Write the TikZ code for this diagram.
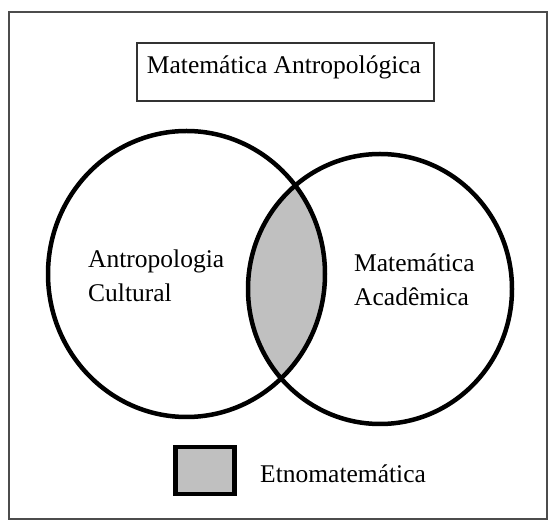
\documentclass[tikz,border=0pt]{standalone}
\usepackage{fontspec}
\setmainfont{Liberation Serif}
\begin{document}
\begin{tikzpicture}[x=1pt,y=-1pt,
  lbl/.style={font=\fontsize{25.5}{34}\selectfont, inner sep=0pt, align=left, text=black},
  ring/.style={line width=4.5pt, draw=black},
  frame/.style={line width=1.4pt, draw=black!80}]
\useasboundingbox (0,0) rectangle (555,526);
\draw[line width=1.3pt, draw=black!70] (9,12) rectangle (547,519);
% intersection fill
\begin{scope}
  \clip (186.5,274) ellipse [x radius=138.5, y radius=143];
  \fill[fill={rgb,255:red,192;green,192;blue,192}] (380,289) ellipse [x radius=132, y radius=135];
\end{scope}
\draw[ring] (186.5,274) ellipse [x radius=138.5, y radius=143];
\draw[ring] (380,289) ellipse [x radius=132, y radius=135];
% title box
\node[frame, minimum width=297pt, minimum height=58pt, inner sep=0pt] (tbox) at (285.5,72) {};
\node[lbl, anchor=base] (title) at (284,74) {Matemática Antropológica};
% circle labels
\node[lbl, anchor=base west] (ac) at (88,302) {Antropologia\\Cultural};
\node[lbl, anchor=base west] (ma) at (354,306) {Matemática\\Acadêmica};
% legend
\node[line width=4.5pt, draw=black, fill={rgb,255:red,192;green,192;blue,192}, minimum width=59pt, minimum height=47pt, inner sep=0pt] (leg) at (205,470.5) {};
\node[lbl, anchor=base west] (et) at (260,483) {Etnomatemática};
\end{tikzpicture}
\end{document}
